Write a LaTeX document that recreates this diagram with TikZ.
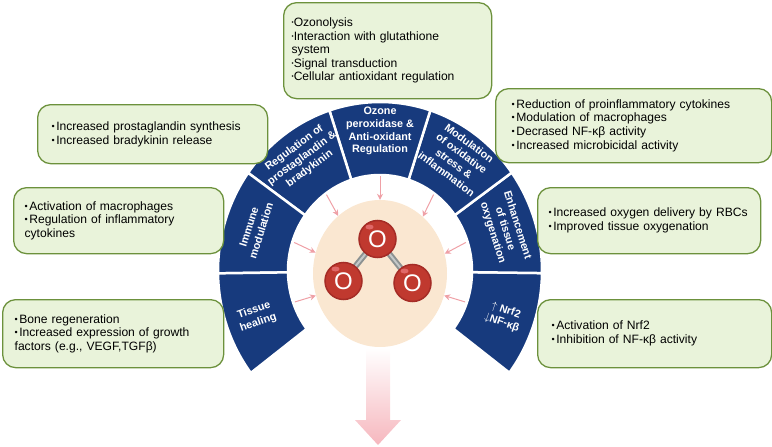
\documentclass[tikz,border=0pt]{standalone}
\usepackage{fontspec}
\setmainfont{Liberation Sans}
\usetikzlibrary{shapes.geometric,arrows.meta}
\definecolor{navy}{RGB}{23,58,125}
\definecolor{boxfill}{RGB}{233,243,218}
\definecolor{boxline}{RGB}{108,145,60}
\definecolor{peach}{RGB}{250,231,209}
\definecolor{arrowpink}{RGB}{239,160,166}
\definecolor{downpink}{RGB}{246,183,190}
\definecolor{atomred}{RGB}{192,57,47}
\definecolor{atomdark}{RGB}{165,44,38}
\definecolor{atomhi}{RGB}{224,104,104}
\definecolor{bondgray}{RGB}{140,146,146}
\definecolor{bondlight}{RGB}{196,200,200}
\newcommand{\bul}{{\fontsize{9}{9}\selectfont\raisebox{1pt}{•}}\kern1.5pt}
\newcommand{\dotbul}{{\fontsize{6}{6}\selectfont\raisebox{2pt}{•}}}
\begin{document}
\begin{tikzpicture}[x=1pt,y=1pt,
  infobox/.style={draw=boxline,fill=boxfill,line width=1.3pt,rounded corners=13pt,anchor=north west,align=left,font=\fontsize{12.1}{13.6}\selectfont},
  seglabel/.style={text=white,font=\bfseries\fontsize{10.8}{12.8}\selectfont,align=center,inner sep=0pt},
  toarrow/.style={draw=arrowpink,line width=1pt,-{Stealth[length=6pt,width=6pt]}},
  atom/.style={circle,minimum size=37pt,inner sep=0pt,fill=atomred,draw=atomdark,line width=1.5pt,text=white,font=\fontsize{24}{24}\selectfont}]
\useasboundingbox (0,0) rectangle (772,-447);
\coordinate (c) at (380,-271);
% ring of seven segments
\begin{scope}[shift={(380,-271)}]
\foreach \k in {0,...,6} {
  \pgfmathsetmacro{\a}{-37+36.3*\k}
  \pgfmathsetmacro{\b}{\a+36.3}
  \filldraw[fill=navy,draw=white,line width=2.5pt] (\a:92 and 96) -- (\a:162 and 169)
    arc[start angle=\a,end angle=\b,x radius=162,y radius=169] -- (\b:92 and 96)
    arc[start angle=\b,end angle=\a,x radius=92,y radius=96] -- cycle;
}
\end{scope}
\node[ellipse,fill=peach,minimum width=134pt,minimum height=147pt,inner sep=0pt] (peach) at (380,-273.5) {};
% labels and arrows
\foreach \ang/\rot/\txt [count=\i] in {
  -19/-19/{$\uparrow$ Nrf2\\$\downarrow$NF-κβ},
  17.5/-72.5/{Enhancement\\of tissue\\oxygenation},
  53.5/-36.5/{Modulation\\of oxidative\\stress \&\\inflammation},
  90/0/{Ozone\\peroxidase \&\\Anti-oxidant\\Regulation},
  126.5/36.5/{Regulation of\\prostaglandin \&\\bradykinin},
  162.5/72.5/{Immune\\modulation},
  199/19/{Tissue\\healing}} {
  \node[seglabel,rotate=\rot] (seg\i) at ([shift={(\ang:131 and 140)}]c) {\txt};
  \coordinate (in\i) at ([shift={(\ang:90 and 95)}]c);
  \draw[toarrow] (in\i) -- (peach.\ang);
}
% ozone molecule
\coordinate (a1) at (377.5,-239);
\coordinate (a2) at (343.5,-281);
\coordinate (a3) at (412.5,-283);
\draw[bondgray,line width=6pt] (a1) -- (a2) (a1) -- (a3);
\draw[bondlight,line width=2pt] (a1) -- (a2) (a1) -- (a3);
\foreach \p in {a1,a2,a3} {
  \node[atom] (o\p) at (\p) {O};
  \fill[atomhi] ([shift={(-8,12)}]\p) ellipse (4 and 2.5);
}
% arrow down
\shade[top color=white,bottom color=downpink] (366,-348) -- (366,-420) -- (355,-420) -- (378,-445)
  -- (401,-420) -- (390,-420) -- (390,-348) -- cycle;
% boxes
\node[infobox,text width=192pt,inner xsep=8pt,minimum height=96pt] (ozbox) at (283,-2)
  {\dotbul Ozonolysis\\\dotbul Interaction with glutathione\\system\\\dotbul Signal transduction\\\dotbul Cellular antioxidant regulation};
\node[infobox,text width=202pt,inner xsep=14pt,minimum height=59pt] (pgbox) at (37,-104)
  {\bul Increased prostaglandin synthesis\\\bul Increased bradykinin release};
\node[infobox,text width=188pt,inner xsep=11pt,minimum height=66pt] (imbox) at (13,-187)
  {\bul Activation of macrophages\\\bul Regulation of inflammatory\\cytokines};
\node[infobox,text width=197pt,inner xsep=12pt,minimum height=68pt] (thbox) at (2,-299)
  {\bul Bone regeneration\\\bul Increased expression of growth\\factors (e.g., VEGF,TGFβ)};
\node[infobox,text width=244pt,inner xsep=16pt,minimum height=74pt] (oxbox) at (495,-88)
  {\bul Reduction of proinflammatory cytokines\\\bul Modulation of macrophages\\\bul Decrased NF-κβ activity\\\bul Increased microbicidal activity};
\node[infobox,text width=201pt,inner xsep=11pt,minimum height=66pt] (o2box) at (537,-187)
  {\bul Increased oxygen delivery by RBCs\\\bul Improved tissue oxygenation};
\node[infobox,text width=206pt,inner xsep=14pt,minimum height=68pt] (nrbox) at (537,-299)
  {\bul Activation of Nrf2\\\bul Inhibition of NF-κβ activity};
\end{tikzpicture}
\end{document}
